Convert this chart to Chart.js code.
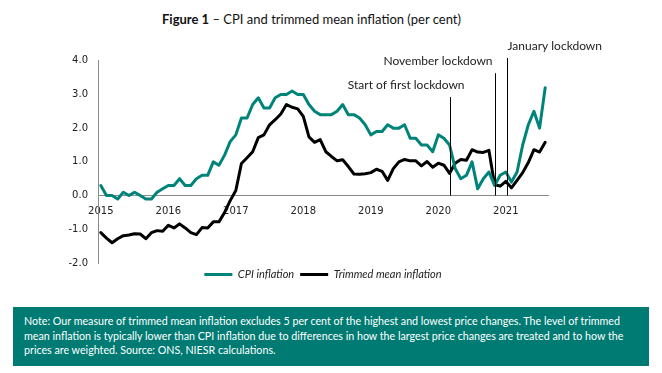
<!DOCTYPE html>
<html>
<head>
<meta charset="utf-8">
<script src="https://cdn.jsdelivr.net/npm/chart.js@4/dist/chart.umd.min.js"></script>
<style>
  html, body { margin: 0; padding: 0; background: #fff; }
  body { width: 662px; height: 373px; position: relative; overflow: hidden; font-family: Lato, "Open Sans", sans-serif; }
  #title { position: absolute; left: 162px; top: 11px; font-size: 13px; color: #111; white-space: nowrap; }
  #title b { font-weight: 700; }
  #chartWrap { position: absolute; left: 0; top: 0; width: 662px; height: 300px; }
  #note { position: absolute; left: 13px; top: 307px; width: 636px; height: 59px; background: #007b74; color: #fff;
          font-size: 10.7px; line-height: 14.6px; box-sizing: border-box; padding: 7px 0 0 11px; white-space: nowrap; }
</style>
</head>
<body>
<div id="title"><b>Figure 1</b> – CPI and trimmed mean inflation (per cent)</div>
<div id="chartWrap"><canvas id="c" width="662" height="300"></canvas></div>
<div id="note">Note: Our measure of trimmed mean inflation excludes 5 per cent of the highest and lowest price changes. The level of trimmed<br>mean inflation is typically lower than CPI inflation due to differences in how the largest price changes are treated and to how the<br>prices are weighted. Source: ONS, NIESR calculations.</div>
<script>
const months = [
  '2015-01','2015-02','2015-03','2015-04','2015-05','2015-06','2015-07','2015-08','2015-09','2015-10','2015-11','2015-12',
  '2016-01','2016-02','2016-03','2016-04','2016-05','2016-06','2016-07','2016-08','2016-09','2016-10','2016-11','2016-12',
  '2017-01','2017-02','2017-03','2017-04','2017-05','2017-06','2017-07','2017-08','2017-09','2017-10','2017-11','2017-12',
  '2018-01','2018-02','2018-03','2018-04','2018-05','2018-06','2018-07','2018-08','2018-09','2018-10','2018-11','2018-12',
  '2019-01','2019-02','2019-03','2019-04','2019-05','2019-06','2019-07','2019-08','2019-09','2019-10','2019-11','2019-12',
  '2020-01','2020-02','2020-03','2020-04','2020-05','2020-06','2020-07','2020-08','2020-09','2020-10','2020-11','2020-12',
  '2021-01','2021-02','2021-03','2021-04','2021-05','2021-06','2021-07','2021-08'
];
const cpiInflation = [
  0.3, 0.0, 0.0, -0.1, 0.1, 0.0, 0.1, 0.0, -0.1, -0.1, 0.1, 0.2,
  0.3, 0.3, 0.5, 0.3, 0.3, 0.5, 0.6, 0.6, 1.0, 0.9, 1.2, 1.6,
  1.8, 2.3, 2.3, 2.7, 2.9, 2.6, 2.6, 2.9, 3.0, 3.0, 3.1, 3.0,
  3.0, 2.7, 2.5, 2.4, 2.4, 2.4, 2.5, 2.7, 2.4, 2.4, 2.3, 2.1,
  1.8, 1.9, 1.9, 2.1, 2.0, 2.0, 2.1, 1.7, 1.7, 1.5, 1.5, 1.3,
  1.8, 1.7, 1.5, 0.8, 0.5, 0.6, 1.0, 0.2, 0.5, 0.7, 0.3, 0.6,
  0.7, 0.4, 0.7, 1.5, 2.1, 2.5, 2.0, 3.2
];
const trimmedMeanInflation = [
  -1.10, -1.26, -1.40, -1.28, -1.19, -1.17, -1.13, -1.14, -1.28, -1.10, -1.04, -1.06,
  -0.88, -0.96, -0.84, -0.96, -1.10, -1.16, -0.95, -0.96, -0.78, -0.78, -0.50, -0.15,
  0.15, 0.95, 1.12, 1.30, 1.72, 1.80, 2.10, 2.25, 2.42, 2.70, 2.62, 2.57,
  2.35, 1.74, 1.58, 1.66, 1.30, 1.16, 1.03, 1.06, 0.86, 0.64, 0.63, 0.65,
  0.68, 0.78, 0.72, 0.45, 0.80, 1.00, 1.07, 1.03, 1.03, 0.88, 1.01, 0.84,
  0.96, 0.90, 0.66, 0.96, 1.07, 1.05, 1.36, 1.29, 1.28, 1.34, 0.33, 0.28,
  0.42, 0.23, 0.45, 0.68, 0.98, 1.36, 1.29, 1.58
];
const yearTickLabels = ['2015','2016','2017','2018','2019','2020','2021'];
const lockdownNames = ['Start of first lockdown', 'November lockdown', 'January lockdown'];
const lockdownMonths = ['2020-03', '2020-11', '2021-01'];

const TEAL = '#00847a';
const tickFont = { family: '"DejaVu Sans", Verdana, sans-serif', size: 10 };

// style for the lockdown markers (positions relative to the marker line)
const lockdownStyle = [
  { top: 2.92, align: 'right', dx: 14, shift: 0 },
  { top: 3.63, align: 'right', dx: -3, shift: 0 },
  { top: 4.08, align: 'left', dx: 0, shift: 0.3 }
];

const lockdownPlugin = {
  id: 'lockdowns',
  afterDatasetsDraw(chart) {
    const { ctx, scales: { x, y } } = chart;
    ctx.save();
    lockdownMonths.forEach((m, i) => {
      const st = lockdownStyle[i];
      const px = Math.round(x.getPixelForValue(months.indexOf(m) + st.shift)) + 0.5;
      const yTop = y.getPixelForValue(st.top);
      const yBot = y.getPixelForValue(0);
      ctx.strokeStyle = '#000';
      ctx.lineWidth = 1;
      ctx.beginPath();
      ctx.moveTo(px, yTop);
      ctx.lineTo(px, yBot);
      ctx.stroke();
      ctx.fillStyle = '#222';
      ctx.font = '12px Lato, "Open Sans", sans-serif';
      ctx.textAlign = st.align;
      ctx.textBaseline = 'middle';
      ctx.fillText(lockdownNames[i], px + st.dx, yTop - 12);
    });
    ctx.restore();
  }
};

new Chart(document.getElementById('c'), {
  type: 'line',
  data: {
    labels: months,
    datasets: [
      { label: 'CPI inflation', data: cpiInflation, borderColor: TEAL, backgroundColor: TEAL,
        borderWidth: 3, pointRadius: 0, tension: 0, borderJoinStyle: 'round', borderCapStyle: 'round' },
      { label: 'Trimmed mean inflation', data: trimmedMeanInflation, borderColor: '#000', backgroundColor: '#000',
        borderWidth: 3, pointRadius: 0, tension: 0, borderJoinStyle: 'round', borderCapStyle: 'round' }
    ]
  },
  options: {
    responsive: false,
    animation: false,
    layout: { padding: { top: 60.7, bottom: 10, left: 0, right: 114 } },
    scales: {
      x: {
        type: 'category',
        offset: true,
        position: { y: 0 },
        grid: { display: false, drawTicks: false },
        border: { display: true, color: '#8a8a8a', width: 1 },
        ticks: {
          autoSkip: false, maxRotation: 0, minRotation: 0, padding: 10,
          color: '#222', font: tickFont,
          callback: function (value) {
            const lab = this.getLabelForValue(value);
            const yr = lab.slice(0, 4);
            return (lab.endsWith('-01') && yearTickLabels.includes(yr)) ? yr : '';
          }
        },
        afterFit: (s) => { s.height = 0; }
      },
      y: {
        min: -2, max: 4,
        grid: { display: false, drawTicks: false },
        border: { display: true, color: '#8a8a8a', width: 1 },
        ticks: { stepSize: 1, padding: 10, color: '#222', font: tickFont,
          callback: (v) => Number(v).toFixed(1) },
        afterFit: (s) => { s.width = 98; }
      }
    },
    plugins: {
      legend: {
        position: 'bottom',
        fullSize: false,
        labels: {
          boxWidth: 28, boxHeight: 3, padding: 6, color: '#222',
          font: { family: 'Lato, "Open Sans", sans-serif', size: 11, style: 'italic' },
          generateLabels: (chart) => Chart.defaults.plugins.legend.labels.generateLabels(chart)
            .map(l => Object.assign(l, { lineWidth: 0 }))
        }
      },
      tooltip: { enabled: false }
    }
  },
  plugins: [lockdownPlugin]
});
</script>
</body>
</html>
